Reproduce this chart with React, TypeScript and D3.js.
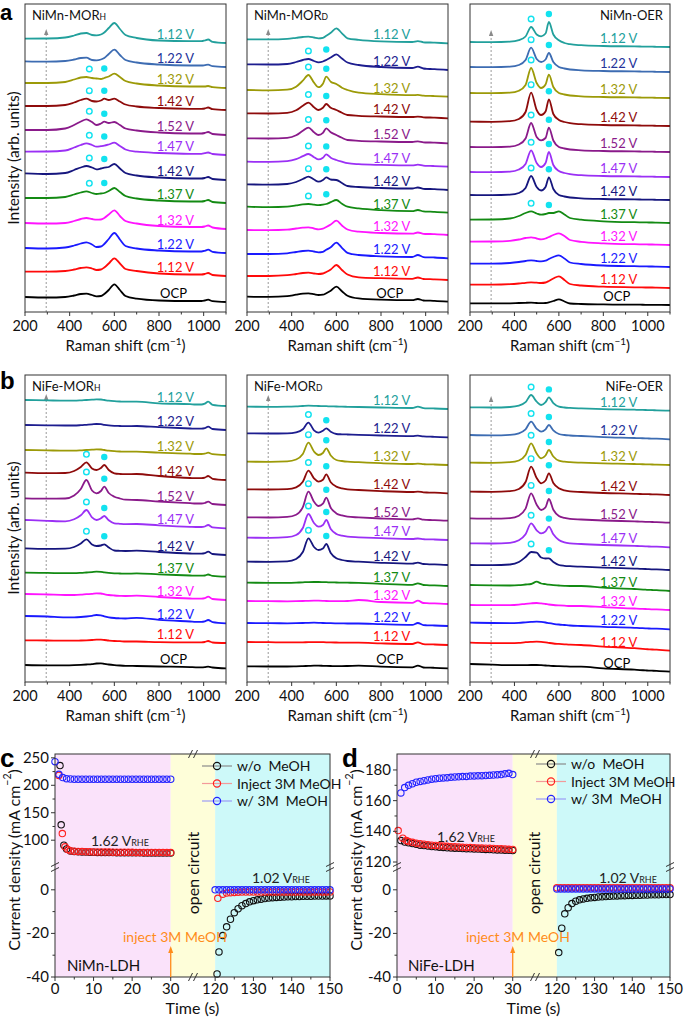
import React from 'react';
import * as d3 from 'd3';

// ---------------- Raman data ----------------
const RAMAN_X = [200, 300, 380, 420, 450, 475, 500, 520, 540, 555, 575, 600, 625, 650, 700, 800, 940, 965, 990, 1005, 1020, 1040, 1100];
const RAMAN_TICKS = [200, 400, 600, 800, 1000];
const RAMAN_MINOR = [300, 500, 700, 900, 1100];
const POTENTIALS = ['OCP', '1.12 V', '1.22 V', '1.32 V', '1.37 V', '1.42 V', '1.47 V', '1.52 V', '1.42 V', '1.32 V', '1.22 V', '1.12 V'];
const LINE_COLORS = ['#000000', '#ff0a0a', '#1a1aff', '#ff14ff', '#138a13', '#16167e', '#9b30f5', '#8a1a8a', '#8e0b0b', '#9c9a08', '#3d6cb2', '#22a09c'];
const LABEL_COLORS = ['#000000', '#ff0a0a', '#1a1aff', '#ff14ff', '#138a13', '#16167e', '#9b30f5', '#8a1a8a', '#8e0b0b', '#9c9a08', '#23329a', '#22a09c'];
const NAVY_TOP = '#1d1d8f';

// NiMn-MOR_H
const NIMN_MORH_OFFSET = [10, 36, 59, 83, 109, 132, 157, 177, 202, 224, 245, 269];
const NIMN_MORH = [
  [5, 4.5, 5, 6.5, 8, 8.3, 7, 5.7, 6, 8, 12, 17.7, 12, 6, 3.3, 1.5, 1, 1, 1, 1.5, 2.3, 0.8, 0],
  [4.3, 4.3, 5, 6.5, 8, 8.7, 7.5, 6, 6.5, 8.5, 12.5, 17.7, 12.5, 7, 5, 2.5, 1.5, 1.5, 1.5, 2, 3, 1, 0],
  [5, 4.5, 5.5, 7.5, 9.5, 10.7, 8.5, 6, 6.5, 9, 14, 20, 13.5, 7, 4.5, 2.5, 1.5, 1.5, 1.5, 2.2, 3.3, 1.2, 0],
  [6, 5.5, 6, 8, 10, 11, 10, 9.3, 9.5, 11, 14.5, 18.7, 13, 8, 5.5, 3, 2, 2, 2, 2.5, 3.5, 1.5, 0],
  [5, 5, 6, 8.5, 10.5, 11.7, 10, 9, 9.5, 10, 12, 15, 11, 7, 4.5, 2.5, 1.5, 1.5, 1.5, 2, 3, 1, 0],
  [6.7, 6, 7, 10, 12.5, 14, 12.5, 10.7, 11.5, 12.3, 13, 16, 11.5, 7, 4.5, 2.5, 1.5, 1.5, 1.5, 2, 3, 1, 0],
  [3.3, 3.5, 4.5, 7.5, 10, 11.7, 10, 8.3, 8.8, 9.3, 10.5, 12.3, 9, 5.5, 3.3, 2, 1.2, 1.2, 1.2, 1.8, 2.5, 1, 0],
  [5, 5, 6.5, 10, 13.5, 15.7, 13, 10, 11.5, 13.3, 12, 13, 10, 6.5, 4.5, 2.5, 1.5, 1.5, 1.5, 2, 3, 1, 0],
  [4, 4, 5, 7.5, 10, 11.3, 9, 8.5, 9.5, 11.3, 10, 11.3, 8.5, 5.5, 3.5, 2, 1.2, 1.2, 1.2, 1.5, 2.5, 0.8, 0],
  [5, 5, 6, 8.5, 10.5, 11, 10, 9.5, 9, 10, 11.5, 14.3, 11, 7, 4.5, 2.5, 1.5, 1.5, 1.5, 1.5, 2, 0.8, 0],
  [5.7, 5.3, 6, 7.5, 9, 9.3, 7, 6.7, 7.5, 9, 13, 17.3, 12, 7, 4.5, 2.5, 1.5, 1.5, 1.5, 1.8, 2.3, 0.8, 0],
  [4.3, 4.5, 5.5, 7.5, 9.5, 10, 8, 7.7, 8.5, 10.5, 15, 20, 14, 8, 5, 2.5, 1.8, 1.8, 1.8, 2.5, 3.5, 1.2, 0],
];
const NIMN_MORH_MARKED = [4, 5, 6, 7, 8, 9];

// NiMn-MOR_D
const NIMN_MORD_OFFSET = [10.3, 32, 53.7, 77, 99.3, 122, 145.3, 168.7, 193.7, 215.3, 242, 268.7];
const NIMN_MORD = [
  [5, 4.8, 5.5, 7, 8, 8.3, 7.5, 6.7, 7, 8.5, 11, 15, 10.5, 6, 3.3, 2, 1.5, 2.7, 1.2, 1, 1, 0.8, 0],
  [4, 4, 4.8, 6, 7, 7.3, 6.5, 6, 6.5, 8, 10.5, 15, 10, 5.5, 2.7, 1.8, 1.2, 2.5, 1, 0.8, 0.8, 0.6, 0],
  [4.3, 4.3, 5, 6.3, 7.3, 7.7, 6.8, 6, 6.5, 8.5, 11, 15.7, 10.5, 5.5, 3.3, 2, 1.3, 3.3, 1.2, 1, 1, 0.8, 0],
  [5, 4.8, 5.3, 6.5, 7.3, 7.7, 6.5, 5.7, 6.3, 8, 10.5, 14.3, 9.5, 5.5, 3.3, 2, 1.3, 2.5, 1.2, 1, 1, 0.8, 0],
  [6, 5.5, 6, 7.3, 8.3, 8.7, 8, 7.5, 8, 8.7, 10.5, 12.7, 9, 6, 4.3, 2.5, 1.5, 2.7, 1.3, 1, 1, 0.8, 0],
  [5.7, 5.3, 6, 8, 11, 13.3, 10.5, 8.3, 10, 12.7, 10.5, 10, 7, 4, 3, 2, 1.5, 2.5, 1.2, 1, 1, 0.8, 0],
  [5, 4.8, 5.5, 7.5, 10.5, 12.7, 9.5, 7.3, 9, 12.3, 9, 6.7, 5, 3.5, 2.5, 1.8, 1.3, 2, 1, 0.8, 0.8, 0.6, 0],
  [5, 4.8, 5.5, 8, 12.5, 15.7, 11, 8.3, 10.5, 15, 11, 8.3, 5.5, 3.3, 2.5, 1.8, 1.3, 2, 1, 0.8, 0.8, 0.6, 0],
  [5, 4.8, 5.5, 8, 12.5, 15.7, 11, 8.3, 10.5, 14.3, 10.5, 8.3, 5.5, 3.3, 2.5, 1.8, 1.3, 1.7, 1, 0.8, 0.8, 0.6, 0],
  [6.7, 6.3, 7, 10, 16, 21.7, 14, 9.5, 13, 20, 15, 12.7, 9, 6.7, 4, 2.5, 1.5, 1.8, 1, 0.8, 0.8, 0.6, 0],
  [5.7, 5.5, 6, 8, 10, 11, 9, 7.7, 8.5, 10, 12.5, 15.7, 11.5, 7.5, 5, 3, 2, 3.3, 1.5, 1.2, 1, 0.8, 0],
  [4, 4, 4.5, 5.5, 6.3, 6.7, 5.8, 5, 5.5, 7.5, 10.5, 15, 10, 5, 3.5, 2, 1.3, 2.2, 1, 0.8, 0.8, 0.6, 0],
];
const NIMN_MORD_MARKED = [4, 5, 6, 7, 8, 9, 10];

// NiMn-OER
const NIMN_OER_OFFSET = [7, 24, 45, 67, 89, 112, 135, 160, 186, 214, 240, 265];
const NIMN_OER = [
  [1.7, 1.6, 1.7, 2, 2.2, 2.3, 2, 1.8, 2, 2.6, 4, 5.7, 3.5, 1.5, 1, 0.6, 0.3, 0.3, 0.2, 0.2, 0.2, 0.1, 0],
  [3.3, 3.3, 3.8, 4.5, 5.2, 5.7, 5.3, 5, 5.5, 7, 9.5, 11.7, 8, 4, 2.5, 1.3, 0.7, 0.6, 0.5, 0.5, 0.5, 0.4, 0],
  [3.3, 3.3, 4, 5, 6, 6.7, 6, 5.7, 6.3, 8, 10, 11.7, 8.5, 4.5, 3, 1.5, 0.8, 0.7, 0.6, 0.5, 0.5, 0.4, 0],
  [3.3, 3.5, 4.2, 5.5, 7, 7.7, 6.5, 5.7, 6.5, 8, 10, 11.7, 9, 5, 3.2, 1.7, 0.8, 0.7, 0.6, 0.5, 0.5, 0.4, 0],
  [3.3, 3.5, 4.5, 7, 10, 11.7, 9.5, 8.3, 9, 10, 10, 11.7, 8.5, 5, 3.3, 1.7, 0.8, 0.7, 0.6, 0.5, 0.5, 0.4, 0],
  [5, 4.8, 5.3, 7, 12, 24, 13, 9.5, 13, 22.7, 11, 5, 3.5, 2.5, 1.7, 1, 0.6, 0.5, 0.4, 0.4, 0.3, 0.2, 0],
  [5, 4.8, 5.3, 7.5, 13, 26.7, 14, 10, 14, 25, 12, 6, 4, 2.8, 1.8, 1, 0.6, 0.5, 0.4, 0.4, 0.3, 0.2, 0],
  [5, 4.8, 5.3, 7.5, 13.5, 29, 15, 11.7, 14, 24.3, 11.5, 5, 3.5, 2.5, 1.7, 1, 0.6, 0.5, 0.4, 0.4, 0.3, 0.2, 0],
  [4.3, 4.2, 4.8, 7, 14, 33.3, 16, 11, 14.5, 26.7, 12, 6, 4, 2.8, 1.8, 1, 0.6, 0.5, 0.4, 0.4, 0.3, 0.2, 0],
  [5, 4.8, 5.3, 7.3, 13, 30, 15, 10, 13.5, 23.3, 11, 5, 3.5, 2.5, 1.7, 1, 0.6, 0.5, 0.4, 0.4, 0.3, 0.2, 0],
  [5, 4.8, 5.3, 7, 12, 24.3, 13, 10, 12.5, 19, 10, 5, 3.5, 2.5, 1.7, 1, 0.6, 0.5, 0.4, 0.4, 0.3, 0.2, 0],
  [5, 4.8, 5.3, 6.8, 10.5, 20, 12.5, 10.7, 13.5, 25, 12.5, 6.7, 4, 2.8, 1.8, 1, 0.6, 0.5, 0.4, 0.4, 0.3, 0.2, 0],
];
const NIMN_OER_MARKED = [4, 5, 6, 7, 8, 9, 10, 11];

// NiFe-MOR_H
const NIFE_MORH_OFFSET = [13.7, 39, 58.7, 82, 105.3, 127, 153.7, 177, 202, 227, 252, 276];
const NIFE_MORH = [
  [3.3, 3, 3, 3.2, 3.5, 3.8, 4.2, 4.8, 5, 4.5, 3.8, 3.2, 2.8, 2.5, 2.3, 1.8, 1.2, 1, 1, 1.2, 1.7, 0.8, 0],
  [2.7, 2.5, 2.3, 2.3, 2.5, 2.7, 3, 3.3, 3.3, 3, 2.5, 2, 1.8, 1.5, 1.5, 0.8, 0.6, 0.6, 0.6, 1, 2, 0.5, 0],
  [7.3, 6.8, 6, 6, 6.3, 6.8, 7.5, 8.3, 8, 7, 6, 5.3, 5, 4.8, 5.5, 3.5, 1.8, 1.5, 1.5, 2, 3.3, 1.2, 0],
  [6, 5.5, 5, 5, 5.3, 5.8, 6.2, 6.7, 6.5, 5.8, 5, 4.5, 4.2, 4, 4.3, 3, 1.5, 1.3, 1.3, 1.8, 3.3, 1, 0],
  [4, 3.8, 3.5, 3.5, 3.8, 4.2, 4.6, 5, 4.8, 4.3, 3.8, 3.4, 3.2, 3, 3.3, 2.3, 1.2, 1, 1, 1.2, 2.2, 0.8, 0],
  [6.7, 6.2, 6.3, 8, 11.5, 15.7, 10.5, 9, 9.5, 10.7, 7.5, 4.5, 4.2, 4, 4.3, 3, 1.5, 1.3, 1.3, 1.8, 3.3, 1, 0],
  [8.3, 7.5, 7, 9, 13, 18.3, 11, 8.3, 10, 12.3, 8, 5, 4.5, 4.2, 4.3, 3, 1.5, 1.3, 1.3, 1.8, 3.3, 1, 0],
  [6.7, 6.3, 6.5, 9.5, 16, 25, 14.5, 11.7, 14, 18.3, 12, 8.3, 6.5, 5.3, 5, 3.5, 1.8, 1.5, 1.5, 2, 3.3, 1, 0],
  [7.3, 6.8, 7, 9, 13, 17.7, 11.5, 10, 12, 15, 10, 6.7, 6, 5.8, 6, 4, 2, 1.8, 1.8, 2.3, 4, 1.2, 0],
  [5, 4.6, 4.3, 4.3, 4.6, 5, 5.3, 5.7, 5.5, 5, 4.3, 3.8, 3.5, 3.3, 3.3, 2.3, 1.3, 1, 1, 1.3, 2.3, 0.8, 0],
  [5, 4.7, 4.5, 4.5, 4.8, 5.2, 5.6, 6, 5.8, 5.2, 4.6, 4.2, 4, 3.8, 4, 2.8, 1.5, 1.3, 1.3, 1.8, 3.3, 1, 0],
  [6, 5.6, 5.3, 5.3, 5.6, 6, 6.3, 6.7, 6.5, 6, 5.3, 4.8, 4.5, 4.3, 4.3, 2.7, 1.8, 1.5, 1.5, 2.3, 4.3, 1.2, 0],
];
const NIFE_MORH_MARKED = [5, 6, 7, 8];

// NiFe-MOR_D
const NIFE_MORD_OFFSET = [13.7, 37, 56, 78, 96, 117, 142, 161.3, 188.7, 217, 244.7, 273];
const NIFE_MORD = [
  [2, 1.8, 1.8, 2, 2.2, 2.4, 2.6, 2.6, 2.5, 2.4, 2.3, 2.2, 2.2, 2.3, 2.7, 1.6, 1, 2.7, 0.8, 0.6, 0.6, 0.5, 0],
  [3, 2.8, 2.6, 2.6, 2.7, 2.8, 2.9, 2.9, 2.8, 2.7, 2.6, 2.5, 2.4, 2.3, 2.3, 1.6, 1, 2.7, 0.8, 0.6, 0.6, 0.5, 0],
  [3, 2.8, 2.7, 2.8, 3, 3.2, 3.3, 3.2, 3, 2.9, 2.8, 2.7, 2.6, 2.5, 2.5, 1.8, 1.1, 3, 0.9, 0.7, 0.6, 0.5, 0],
  [3, 2.8, 2.7, 2.8, 3, 3.2, 3.3, 3.3, 3.2, 3, 2.9, 2.8, 2.8, 3, 4, 2, 1.2, 3.3, 1, 0.8, 0.7, 0.6, 0],
  [3.3, 3.2, 3.2, 3.4, 3.7, 3.9, 4, 4, 3.9, 3.8, 3.6, 3.5, 3.4, 3.3, 3.2, 2.2, 1.2, 2.7, 1, 0.8, 0.7, 0.6, 0],
  [3.3, 3.2, 3.6, 6, 13, 26.7, 18, 15, 16.5, 21, 12, 6.7, 5, 4, 3.3, 2.2, 1.3, 2.3, 1, 0.8, 0.7, 0.6, 0],
  [2.3, 2.2, 2.8, 5, 12, 26, 17, 13.3, 15, 20, 11, 6, 4.3, 3.3, 2.7, 1.8, 1, 1.5, 0.8, 0.6, 0.6, 0.5, 0],
  [3.3, 3.2, 3.8, 6, 13.5, 29, 19, 14.7, 17, 23, 13, 7.3, 5.3, 4, 3.3, 2.2, 1.3, 2.3, 1, 0.8, 0.7, 0.6, 0],
  [4, 3.8, 4.2, 6, 11.5, 22.7, 15, 11.7, 13.5, 19, 11, 6.7, 5, 4, 3.3, 2.2, 1.3, 1.7, 1, 0.8, 0.7, 0.6, 0],
  [3.3, 3.2, 3.6, 5.5, 11, 22.3, 13.5, 10, 12, 16.7, 9.5, 5, 4, 3.3, 2.8, 1.8, 1, 1.3, 0.8, 0.6, 0.6, 0.5, 0],
  [4, 3.8, 4, 5, 8, 14.7, 7, 4.7, 6.5, 9, 5.5, 3.3, 3, 2.8, 2.5, 1.8, 1.2, 1.7, 0.9, 0.7, 0.6, 0.5, 0],
  [2.3, 2.2, 2.3, 2.6, 3, 3.3, 3.2, 3, 2.9, 2.8, 2.6, 2.5, 2.3, 2.2, 2, 1.5, 1, 2.3, 0.8, 0.6, 0.6, 0.5, 0],
];
const NIFE_MORD_MARKED = [5, 6, 7, 8, 9, 10];

// NiFe-OER
const NIFE_OER_OFFSET = [10.3, 31.3, 52.7, 72, 91, 112, 134.7, 159.3, 187, 217, 242.7, 271.3];
const NIFE_OER = [
  [7.7, 7, 6.5, 6.5, 6.6, 6.7, 6.7, 6.5, 6.2, 6, 5.7, 5.5, 5.3, 5.1, 5, 3.3, 2, 1.6, 1.3, 1.1, 1, 0.8, 0],
  [8, 7.6, 7.5, 7.8, 8.5, 8.8, 9, 8.8, 8.3, 7.8, 7.2, 6.8, 6.4, 6, 5.7, 4, 2.5, 2, 1.6, 1.4, 1.2, 1, 0],
  [6.7, 6.3, 6.2, 6.5, 7, 7.4, 7.7, 7.4, 6.8, 6.2, 5.5, 4.8, 4.3, 3.8, 3.3, 2.5, 1.5, 1.2, 1, 0.8, 0.7, 0.6, 0],
  [5, 4.8, 4.8, 5.3, 6.2, 6.7, 7, 6.6, 6, 5.5, 5, 4.6, 4.3, 4, 4, 2.8, 1.5, 1.2, 1, 0.8, 0.7, 0.6, 0],
  [6, 5.6, 5.5, 5.8, 6.5, 7, 9.3, 7.5, 6.8, 6.3, 5.8, 5.5, 5.2, 5, 5, 3.3, 2, 1.6, 1.3, 1.1, 1, 0.8, 0],
  [5, 4.8, 5.5, 8, 13, 18, 17.3, 12.5, 11.5, 11.7, 8, 5, 4.2, 3.8, 3.3, 2.3, 1.4, 1.2, 1, 0.8, 0.7, 0.6, 0],
  [4, 3.8, 4.5, 7, 13, 24, 17, 14, 16, 20.7, 13, 7.3, 5, 4, 3.3, 2.3, 1.4, 1.2, 1, 0.8, 0.7, 0.6, 0],
  [4.3, 4, 4.6, 7, 14, 29.3, 18, 12.7, 15.5, 23.7, 13, 6.7, 4.8, 3.8, 3.2, 2.2, 1.3, 1.1, 0.9, 0.8, 0.7, 0.6, 0],
  [3.3, 3.2, 3.8, 6, 13, 28.3, 17, 11.7, 14.5, 21.7, 12, 6.7, 4.7, 3.7, 3, 2, 1.2, 1, 0.9, 0.8, 0.7, 0.6, 0],
  [2.3, 2.2, 2.8, 4.5, 10, 21.7, 11.5, 6.7, 9.5, 15, 8.5, 4.3, 3.3, 2.8, 2.3, 1.6, 1, 0.8, 0.7, 0.6, 0.5, 0.4, 0],
  [4.3, 4, 4.5, 6, 10, 17.7, 10.5, 7.7, 10, 14.3, 9, 5.3, 4.3, 3.8, 3.3, 2.2, 1.3, 1.1, 1, 0.8, 0.7, 0.6, 0],
  [3.3, 3.2, 3.7, 5, 8.5, 15.7, 9, 5.7, 8.5, 13.3, 7.5, 4, 3.2, 2.8, 2.3, 1.6, 1, 0.8, 0.7, 0.6, 0.5, 0.4, 0],
];
const NIFE_OER_MARKED = [5, 6, 7, 8, 9, 10, 11];

// ---------------- Chronoamperometry data ----------------
const T_RIGHT = [120, 121, 122, 123, 124, 125, 126, 127, 128, 129, 130, 131, 132, 133, 134, 135, 136, 137, 138, 139, 140, 141, 142, 143, 144, 145, 146, 147, 148, 149, 150];

// NiMn-LDH (c)
const C_BLACK_T1 = [1.3, 1.6, 2.3, 3, 4, 5, 6, 7, 8, 9, 10, 11, 12, 13, 14, 15, 16, 17, 18, 19, 20, 21, 22, 23, 24, 25, 26, 27, 28, 29, 30];
const C_BLACK_V1 = [236, 128, 91, 84, 80.5, 79.5, 79, 78.5, 78.3, 78, 78, 77.8, 77.7, 77.5, 77.5, 77.4, 77.3, 77.2, 77.2, 77.1, 77, 77, 77, 76.9, 76.9, 76.8, 76.8, 76.7, 76.7, 76.6, 76.6];
const C_RED_T1 = [1, 1.9, 2.6, 3.3, 4, 5, 6, 7, 8, 9, 10, 11, 12, 13, 14, 15, 16, 17, 18, 19, 20, 21, 22, 23, 24, 25, 26, 27, 28, 29, 30];
const C_RED_V1 = [218, 112, 88, 83, 81, 80, 79.5, 79.2, 79, 78.8, 78.7, 78.6, 78.5, 78.4, 78.3, 78.2, 78.1, 78, 78, 77.9, 77.9, 77.8, 77.8, 77.7, 77.7, 77.6, 77.6, 77.5, 77.5, 77.4, 77.4];
const C_BLUE_T1 = [0, 1, 2, 3, 4, 5, 6, 7, 8, 9, 10, 11, 12, 13, 14, 15, 16, 17, 18, 19, 20, 21, 22, 23, 24, 25, 26, 27, 28, 29, 30];
const C_BLUE_V1 = [243, 220, 214, 212, 211.5, 211, 211, 211, 211, 211, 211, 211, 211, 211, 211, 211, 211, 211, 211, 211, 211, 211, 211, 211, 211, 211, 211, 211, 211, 211, 211];
const C_BLACK_T2 = [120.5, 121, 122, 123, 124, 125, 126, 127, 128, 129, 130, 131, 132, 133, 134, 135, 136, 137, 138, 139, 140, 141, 142, 143, 144, 145, 146, 147, 148, 149, 150];
const C_BLACK_V2 = [-38.6, -28.5, -21, -17, -13.5, -10.5, -8.7, -7.3, -6.3, -5.5, -5, -4.6, -4.3, -4, -3.8, -3.6, -3.5, -3.4, -3.3, -3.2, -3.2, -3.1, -3.1, -3, -3, -3, -2.9, -2.9, -2.9, -2.8, -2.8];
const C_RED_T2 = [120.7, 122, 123, 124, 125, 126, 127, 128, 129, 130, 131, 132, 133, 134, 135, 136, 137, 138, 139, 140, 141, 142, 143, 144, 145, 146, 147, 148, 149, 150];
const C_RED_V2 = [-3.9, -2, -1.5, -1.3, -1.2, -1.1, -1, -1, -1, -1, -1, -1, -1, -1, -1, -1, -1, -1, -1, -1, -1, -1, -1, -1, -1, -1, -1, -1, -1, -1];
const C_BLUE_V2 = [0, 0, 0, 0, 0, 0, 0, 0, 0, 0, 0, 0, 0, 0, 0, 0, 0, 0, 0, 0, 0, 0, 0, 0, 0, 0, 0, 0, 0, 0, 0];

// NiFe-LDH (d)
const D_BLACK_T1 = [1, 2, 3, 4, 5, 6, 7, 8, 9, 10, 11, 12, 13, 14, 15, 16, 17, 18, 19, 20, 21, 22, 23, 24, 25, 26, 27, 28, 29, 30];
const D_BLACK_V1 = [134, 133, 132.5, 132, 131.5, 131, 130.7, 130.4, 130.1, 129.9, 129.7, 129.5, 129.3, 129.2, 129, 128.9, 128.8, 128.7, 128.6, 128.5, 128.4, 128.3, 128.2, 128.1, 128, 127.9, 127.8, 127.7, 127.6, 127.5];
const D_RED_T1 = [0.3, 1.5, 2.4, 3, 4, 5, 6, 7, 8, 9, 10, 11, 12, 13, 14, 15, 16, 17, 18, 19, 20, 21, 22, 23, 24, 25, 26, 27, 28, 29, 30];
const D_RED_V1 = [140.5, 135.5, 134, 133.3, 132.8, 132.3, 131.9, 131.6, 131.3, 131, 130.8, 130.6, 130.4, 130.2, 130, 129.9, 129.8, 129.6, 129.5, 129.4, 129.3, 129.2, 129.1, 129, 128.9, 128.8, 128.7, 128.6, 128.5, 128.3, 128.2];
const D_BLUE_T1 = [1, 2, 3, 4, 5, 6, 7, 8, 9, 10, 11, 12, 13, 14, 15, 16, 17, 18, 19, 20, 21, 22, 23, 24, 25, 26, 27, 28, 29, 30];
const D_BLUE_V1 = [165, 168.5, 170, 171, 172, 172.5, 173, 173.5, 174, 174.3, 174.6, 174.8, 175, 175.2, 175.4, 175.5, 175.7, 175.8, 176, 176.1, 176.2, 176.3, 176.4, 176.5, 176.7, 176.8, 177, 177.5, 177.8, 177];
const D_BLACK_T2 = [120.5, 121.3, 122.1, 123, 124, 125, 126, 127, 128, 129, 130, 131, 132, 133, 134, 135, 136, 137, 138, 139, 140, 141, 142, 143, 144, 145, 146, 147, 148, 149, 150];
const D_BLACK_V2 = [-28.8, -17.6, -11, -8.2, -6.3, -5.2, -4.6, -4.2, -3.9, -3.7, -3.5, -3.3, -3.2, -3.1, -3, -2.9, -2.8, -2.7, -2.7, -2.6, -2.6, -2.5, -2.5, -2.4, -2.4, -2.3, -2.3, -2.3, -2.2, -2.2, -2.2];
const D_RED_V2 = [0.9, 0.9, 0.9, 0.9, 0.9, 0.9, 0.9, 0.9, 0.9, 0.9, 0.9, 0.9, 0.9, 0.9, 0.9, 0.9, 0.9, 0.9, 0.9, 0.9, 0.9, 0.9, 0.9, 0.9, 0.9, 0.9, 0.9, 0.9, 0.9, 0.9, 0.9];
const D_BLUE_V2 = [0.4, 0.4, 0.4, 0.4, 0.4, 0.4, 0.4, 0.4, 0.4, 0.4, 0.4, 0.4, 0.4, 0.4, 0.4, 0.4, 0.4, 0.4, 0.4, 0.4, 0.4, 0.4, 0.4, 0.4, 0.4, 0.4, 0.4, 0.4, 0.4, 0.4, 0.4];

const LEGEND = ['w/o  MeOH', 'Inject 3M MeOH', 'w/ 3M  MeOH'];
const SERIES_COLORS = ['#111111', '#ff2020', '#2424ff'];
const LEGEND_LINE = ['#8a8a8a', '#f39a9a', '#9a9af5'];

const FONT = "Lato, 'Open Sans', sans-serif";
const CYAN = '#12e2ef';

const zip = (t: number[], v: number[]) => t.slice(0, Math.min(t.length, v.length)).map((x, i) => [x, v[i]]);

type RamanProps = {
  left: number; right: number; top: number; bottom: number; ymax: number;
  offsets: number[]; spectra: number[][]; topColor: string; labelX: number;
  title: string; sub: string; titleRight: boolean; marked: number[]; oX: number; arrowTip: number;
};

function RamanPlot(p: RamanProps) {
  const x = d3.scaleLinear([200, 1100], [p.left, p.right]);
  const y = d3.scaleLinear([0, p.ymax], [p.bottom, p.top]);
  const line = d3.line<number[]>().x(d => x(d[0])).y(d => y(d[1])).curve(d3.curveMonotoneX);
  const peakNear = (s: number[], cx: number) => {
    let m = -Infinity;
    RAMAN_X.forEach((rx, i) => { if (Math.abs(rx - cx) <= 22) m = Math.max(m, s[i]); });
    return m;
  };
  const ax = x(295);
  return (
    <g>
      <line x1={ax} x2={ax} y1={p.bottom} y2={p.arrowTip + 4} stroke="#9a9a9a" strokeWidth={1} strokeDasharray="2,2" />
      <path d={`M${ax},${p.arrowTip} L${ax - 2.2},${p.arrowTip + 6} L${ax + 2.2},${p.arrowTip + 6} Z`} fill="#8a8a8a" />
      {p.spectra.map((s, i) => {
        const pts = RAMAN_X.map((rx, j) => [rx, p.offsets[i] + s[j]]);
        const col = i === 10 ? p.topColor : LINE_COLORS[i];
        return <path key={i} d={line(pts) || ''} fill="none" stroke={col} strokeWidth={1.8} strokeLinejoin="round" />;
      })}
      {p.marked.map(i => {
        const s = p.spectra[i];
        const yo = y(p.offsets[i] + peakNear(s, p.oX) + 8);
        const yf = y(p.offsets[i] + peakNear(s, 555) + 8);
        return (
          <g key={'m' + i}>
            <circle cx={x(p.oX)} cy={yo} r={2.8} fill="white" stroke={CYAN} strokeWidth={1.4} />
            <circle cx={x(555)} cy={yf} r={3.2} fill={CYAN} />
          </g>
        );
      })}
      {POTENTIALS.map((lab, i) => (
        <text key={'l' + i} x={x(i === 0 ? p.labelX + 15 : p.labelX)} y={y(p.offsets[i] + 9)} dominantBaseline="central"
          fontSize={13} fill={i === 10 && p.topColor === NAVY_TOP ? NAVY_TOP : LABEL_COLORS[i]} fontFamily={FONT}>{lab}</text>
      ))}
      <text x={p.titleRight ? p.right - 7 : p.left + 7} y={p.top + 15.5} textAnchor={p.titleRight ? 'end' : 'start'} fontSize={13} fill="#111" fontFamily={FONT}>
        {p.title}{p.sub && <tspan fontSize={8.5}>{p.sub}</tspan>}
      </text>
      <rect x={p.left} y={p.top} width={p.right - p.left} height={p.bottom - p.top} fill="none" stroke="#333" strokeWidth={1} />
      {RAMAN_TICKS.map(t => (
        <g key={'t' + t}>
          <line x1={x(t)} x2={x(t)} y1={p.bottom} y2={p.bottom + 4} stroke="#333" />
          <text x={x(t)} y={p.bottom + 19} textAnchor="middle" fontSize={14.5} fill="#111" fontFamily={FONT}>{t}</text>
        </g>
      ))}
      {RAMAN_MINOR.map(t => <line key={'n' + t} x1={x(t)} x2={x(t)} y1={p.bottom} y2={p.bottom + 2.5} stroke="#333" />)}
      <text x={(p.left + p.right) / 2} y={p.bottom + 39} textAnchor="middle" fontSize={15} fill="#111" fontFamily={FONT}>
        Raman shift (cm<tspan dy={-6} fontSize={10}>−1</tspan><tspan dy={6}>)</tspan>
      </text>
    </g>
  );
}

type Series = { t1: number[]; v1: number[]; t2: number[]; v2: number[] };
type TimeProps = {
  left: number; right: number; top: number; bottom: number; brkX: number; brkY: number;
  upDomain: number[]; upTicks: number[]; upMinor: number[]; series: Series[];
  legendX: number; legendY: number; v162: number[]; v102: number[]; ocX: number; injX: number; ldhX: number; ldh: string;
};

function Slash({ cx, cy, vertical }: { cx: number; cy: number; vertical?: boolean }) {
  const d = vertical
    ? [-2.5, 2.5].map(o => `M${cx - 4},${cy + 2 + o} L${cx + 4},${cy - 2 + o}`).join(' ')
    : [-2.5, 2.5].map(o => `M${cx - 2 + o},${cy + 4} L${cx + 2 + o},${cy - 4}`).join(' ');
  return <path d={d} stroke="#333" strokeWidth={1} fill="none" />;
}

function TimePanel(p: TimeProps) {
  const xL = d3.scaleLinear([0, 35], [p.left, p.brkX - 3]);
  const xR = d3.scaleLinear([115, 150], [p.brkX + 3, p.right]);
  const yU = d3.scaleLinear(p.upDomain, [p.brkY - 1, p.top]);
  const yD = d3.scaleLinear([-40, 10], [p.bottom, p.brkY + 1]);
  const H = p.bottom - p.top;
  return (
    <g fontFamily={FONT}>
      <rect x={p.left} y={p.top} width={xL(30) - p.left} height={H} fill="#fae2fa" />
      <rect x={xL(30)} y={p.top} width={xR(120) - xL(30)} height={H} fill="#fefed9" />
      <rect x={xR(120)} y={p.top} width={p.right - xR(120)} height={H} fill="#cdf9f9" />
      {p.series.map((s, k) => (
        <g key={k}>
          {zip(s.t1, s.v1).map((d, i) => <circle key={'a' + i} cx={xL(d[0])} cy={yU(d[1])} r={3.2} fill="none" stroke={SERIES_COLORS[k]} strokeWidth={1.1} />)}
          {zip(s.t2, s.v2).map((d, i) => <circle key={'b' + i} cx={xR(d[0])} cy={yD(d[1])} r={3.2} fill="none" stroke={SERIES_COLORS[k]} strokeWidth={1.1} />)}
        </g>
      ))}
      <rect x={p.left} y={p.top} width={p.right - p.left} height={H} fill="none" stroke="#333" strokeWidth={1} />
      {[0, 10, 20, 30].map(t => (
        <g key={'x' + t}>
          <line x1={xL(t)} x2={xL(t)} y1={p.bottom} y2={p.bottom + 4} stroke="#333" />
          <text x={xL(t)} y={p.bottom + 17} textAnchor="middle" fontSize={15} fill="#111">{t}</text>
        </g>
      ))}
      {[120, 130, 140, 150].map(t => (
        <g key={'x' + t}>
          <line x1={xR(t)} x2={xR(t)} y1={p.bottom} y2={p.bottom + 4} stroke="#333" />
          <text x={xR(t)} y={p.bottom + 17} textAnchor="middle" fontSize={15} fill="#111">{t}</text>
        </g>
      ))}
      {[5, 15, 25].map(t => <line key={'m' + t} x1={xL(t)} x2={xL(t)} y1={p.bottom} y2={p.bottom + 2.5} stroke="#333" />)}
      {[125, 135, 145].map(t => <line key={'m' + t} x1={xR(t)} x2={xR(t)} y1={p.bottom} y2={p.bottom + 2.5} stroke="#333" />)}
      {p.upTicks.map(v => (
        <g key={'u' + v}>
          <line x1={p.left - 4} x2={p.left} y1={yU(v)} y2={yU(v)} stroke="#333" />
          <text x={p.left - 6} y={yU(v) + 5} textAnchor="end" fontSize={15} fill="#111">{v}</text>
        </g>
      ))}
      {p.upMinor.map(v => <line key={'um' + v} x1={p.left - 2.5} x2={p.left} y1={yU(v)} y2={yU(v)} stroke="#333" />)}
      {[-40, -20, 0].map(v => (
        <g key={'d' + v}>
          <line x1={p.left - 4} x2={p.left} y1={yD(v)} y2={yD(v)} stroke="#333" />
          <text x={p.left - 6} y={yD(v) + 5} textAnchor="end" fontSize={15} fill="#111">{v}</text>
        </g>
      ))}
      {[-30, -10].map(v => <line key={'dm' + v} x1={p.left - 2.5} x2={p.left} y1={yD(v)} y2={yD(v)} stroke="#333" />)}
      <Slash cx={p.brkX} cy={p.top} />
      <Slash cx={p.brkX} cy={p.bottom} />
      <Slash cx={p.left} cy={p.brkY} vertical />
      <Slash cx={p.right} cy={p.brkY} vertical />
      {LEGEND.map((lab, k) => (
        <g key={'lg' + k}>
          <line x1={p.legendX - 15} x2={p.legendX + 15} y1={p.legendY + k * 17.5} y2={p.legendY + k * 17.5} stroke={LEGEND_LINE[k]} strokeWidth={1.2} />
          <circle cx={p.legendX} cy={p.legendY + k * 17.5} r={3.6} fill="none" stroke={SERIES_COLORS[k]} strokeWidth={1.2} />
          <text x={p.legendX + 20} y={p.legendY + k * 17.5 + 5} fontSize={14} fill="#111" style={{ whiteSpace: 'pre' }}>{lab}</text>
        </g>
      ))}
      <text x={p.v162[0]} y={p.v162[1]} fontSize={14} fill="#222">1.62 V<tspan fontSize={9}>RHE</tspan></text>
      <text x={p.v102[0]} y={p.v102[1]} fontSize={14} fill="#222">1.02 V<tspan fontSize={9}>RHE</tspan></text>
      <text transform={`translate(${p.ocX},873) rotate(-90)`} textAnchor="middle" fontSize={16} fill="#111" dominantBaseline="central">open circuit</text>
      <text x={p.injX} y={942} fontSize={14} fill="#ff8c1a">inject 3M MeOH</text>
      <line x1={xL(30)} x2={xL(30)} y1={p.bottom} y2={951} stroke="#ff8c1a" strokeWidth={1.3} />
      <path d={`M${xL(30)},946 L${xL(30) - 2.5},953 L${xL(30) + 2.5},953 Z`} fill="#ff8c1a" />
      <text x={p.ldhX} y={971} fontSize={15} fill="#111">{p.ldh}</text>
      <text x={(p.left + p.right) / 2} y={1014} textAnchor="middle" fontSize={16} fill="#111">Time (s)</text>
    </g>
  );
}

export default function App() {
  const colsA = { l: 25, r: 226 };
  const colsB = { l: 247, r: 448 };
  const colsC = { l: 470, r: 670 };
  const letterFont = "'Liberation Sans', Arial, sans-serif";
  return (
    <svg width={685} height={1019} style={{ position: 'absolute', left: 0, top: 0, background: '#fff' }} fontFamily={FONT}>
      <rect width={685} height={1019} fill="#fff" />
      {/* panel a */}
      <RamanPlot left={colsA.l} right={colsA.r} top={4} bottom={312} ymax={308} offsets={NIMN_MORH_OFFSET} spectra={NIMN_MORH}
        topColor={LINE_COLORS[10]} labelX={790} title="NiMn-MOR" sub="H" titleRight={false} marked={NIMN_MORH_MARKED} oX={488} arrowTip={29} />
      <RamanPlot left={colsB.l} right={colsB.r} top={4} bottom={312} ymax={308} offsets={NIMN_MORD_OFFSET} spectra={NIMN_MORD}
        topColor={NAVY_TOP} labelX={764} title="NiMn-MOR" sub="D" titleRight={false} marked={NIMN_MORD_MARKED} oX={475} arrowTip={29} />
      <RamanPlot left={colsC.l} right={colsC.r} top={4} bottom={312} ymax={308} offsets={NIMN_OER_OFFSET} spectra={NIMN_OER}
        topColor={LINE_COLORS[10]} labelX={785} title="NiMn-OER" sub="" titleRight={true} marked={NIMN_OER_MARKED} oX={475} arrowTip={30} />
      {/* panel b */}
      <RamanPlot left={colsA.l} right={colsA.r} top={375} bottom={682} ymax={307} offsets={NIFE_MORH_OFFSET} spectra={NIFE_MORH}
        topColor={NAVY_TOP} labelX={790} title="NiFe-MOR" sub="H" titleRight={false} marked={NIFE_MORH_MARKED} oX={475} arrowTip={394} />
      <RamanPlot left={colsB.l} right={colsB.r} top={375} bottom={682} ymax={307} offsets={NIFE_MORD_OFFSET} spectra={NIFE_MORD}
        topColor={NAVY_TOP} labelX={764} title="NiFe-MOR" sub="D" titleRight={false} marked={NIFE_MORD_MARKED} oX={475} arrowTip={395} />
      <RamanPlot left={colsC.l} right={colsC.r} top={375} bottom={682} ymax={307} offsets={NIFE_OER_OFFSET} spectra={NIFE_OER}
        topColor={LINE_COLORS[10]} labelX={785} title="NiFe-OER" sub="" titleRight={true} marked={NIFE_OER_MARKED} oX={475} arrowTip={396} />
      <text transform="translate(13,158) rotate(-90)" textAnchor="middle" dominantBaseline="central" fontSize={15.5} fill="#111">Intensity (arb. units)</text>
      <text transform="translate(13,528) rotate(-90)" textAnchor="middle" dominantBaseline="central" fontSize={15.5} fill="#111">Intensity (arb. units)</text>
      {/* panel c & d */}
      <TimePanel left={55} right={330} top={754} bottom={977} brkX={193} brkY={867} upDomain={[53, 257]} upTicks={[100, 150, 200, 250]} upMinor={[125, 175, 225]}
        series={[
          { t1: C_BLACK_T1, v1: C_BLACK_V1, t2: C_BLACK_T2, v2: C_BLACK_V2 },
          { t1: C_RED_T1, v1: C_RED_V1, t2: C_RED_T2, v2: C_RED_V2 },
          { t1: C_BLUE_T1, v1: C_BLUE_V1, t2: T_RIGHT, v2: C_BLUE_V2 },
        ]}
        legendX={217} legendY={766} v162={[91, 846]} v102={[252, 883]} ocX={192} injX={123} ldhX={67} ldh="NiMn-LDH" />
      <TimePanel left={397} right={670} top={754} bottom={977} brkX={535} brkY={867} upDomain={[117.4, 190.4]} upTicks={[120, 140, 160, 180]} upMinor={[130, 150, 170]}
        series={[
          { t1: D_BLACK_T1, v1: D_BLACK_V1, t2: D_BLACK_T2, v2: D_BLACK_V2 },
          { t1: D_RED_T1, v1: D_RED_V1, t2: T_RIGHT, v2: D_RED_V2 },
          { t1: D_BLUE_T1, v1: D_BLUE_V1, t2: T_RIGHT, v2: D_BLUE_V2 },
        ]}
        legendX={551} legendY={764} v162={[437, 842]} v102={[599, 883]} ocX={533} injX={466} ldhX={408} ldh="NiFe-LDH" />
      <text transform="translate(13,860) rotate(-90)" textAnchor="middle" dominantBaseline="central" fontSize={16} fill="#111">
        Current density (mA cm<tspan dy={-6} fontSize={10.5}>−2</tspan><tspan dy={6}>)</tspan>
      </text>
      <text transform="translate(355,860) rotate(-90)" textAnchor="middle" dominantBaseline="central" fontSize={16} fill="#111">
        Current density (mA cm<tspan dy={-6} fontSize={10.5}>−2</tspan><tspan dy={6}>)</tspan>
      </text>
      {/* panel letters */}
      <text x={0} y={20} fontSize={22} fontWeight="bold" fontFamily={letterFont} fill="#000">a</text>
      <text x={0} y={389} fontSize={24} fontWeight="bold" fontFamily={letterFont} fill="#000">b</text>
      <text x={0} y={767} fontSize={26} fontWeight="bold" fontFamily={letterFont} fill="#000">c</text>
      <text x={342} y={767} fontSize={26} fontWeight="bold" fontFamily={letterFont} fill="#000">d</text>
    </svg>
  );
}
